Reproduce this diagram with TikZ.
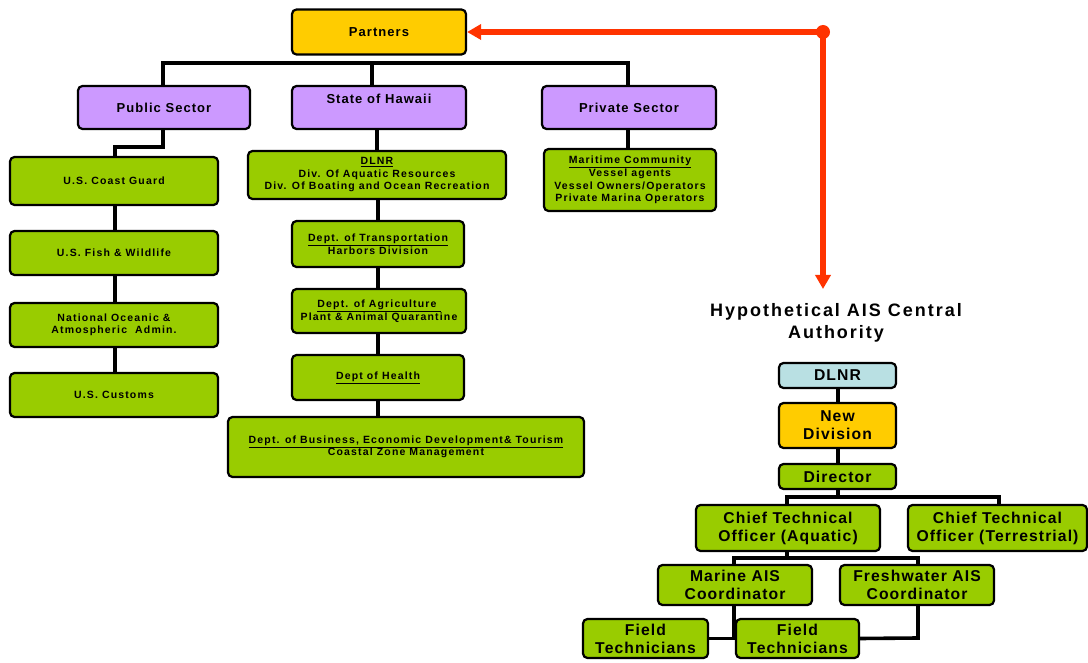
\documentclass[tikz,border=0pt]{standalone}
\usepackage{fontspec}
\setmainfont{Liberation Sans}
\usetikzlibrary{arrows.meta}
\definecolor{boxgreen}{HTML}{99CC00}
\definecolor{boxpurple}{HTML}{CC99FF}
\definecolor{boxyellow}{HTML}{FFCC00}
\definecolor{boxblue}{HTML}{B9E0E3}
\definecolor{redline}{HTML}{FF3300}
\begin{document}
\begin{tikzpicture}[x=1pt,y=-1pt,
  box/.style={draw=black, line width=2.2pt, rounded corners=4.5pt, align=center, inner sep=0pt},
  greenbox/.style={box, fill=boxgreen},
  small/.style={font=\fontsize{10.5}{12.5}\selectfont\bfseries\addfontfeatures{LetterSpace=11}},
  medium/.style={font=\fontsize{13}{15}\selectfont\bfseries\addfontfeatures{LetterSpace=8}},
  big/.style={font=\fontsize{15.7}{18}\selectfont\bfseries\addfontfeatures{LetterSpace=7}},
  titletext/.style={font=\fontsize{18}{22}\selectfont\bfseries\addfontfeatures{LetterSpace=11}, align=center, inner sep=0pt},
  conn/.style={draw=black, line width=3.6pt},
  redconn/.style={draw=redline, line width=5.5pt, -{Triangle[length=14pt,width=15pt]}}]
\useasboundingbox (0,0) rectangle (1088,663);
\fill[white] (0,0) rectangle (1088,663);
% top level
\node[box, medium, fill=boxyellow, minimum width=174pt, minimum height=45pt] (partners) at (379,32) {Partners};
\node[box, medium, fill=boxpurple, minimum width=172pt, minimum height=43pt] (public) at (164,107.5) {Public Sector};
\node[box, medium, fill=boxpurple, minimum width=174pt, minimum height=43pt] (state) at (379,107.5) {\raisebox{4pt}[0pt][0pt]{State of Hawaii}};
\node[box, medium, fill=boxpurple, minimum width=174pt, minimum height=43pt] (private) at (629,107.5) {Private Sector};
% left column
\node[greenbox, small, minimum width=208pt, minimum height=48pt] (uscg) at (114,181) {U.S. Coast Guard};
\node[greenbox, small, minimum width=208pt, minimum height=44pt] (fws) at (114,253) {U.S. Fish \& Wildlife};
\node[greenbox, small, minimum width=208pt, minimum height=44pt] (noaa) at (114,325) {National Oceanic \&\\Atmospheric\ \ Admin.};
\node[greenbox, small, minimum width=208pt, minimum height=44pt] (customs) at (114,395) {U.S. Customs};
% middle column
\node[greenbox, small, minimum width=258pt, minimum height=48pt] (dlnr) at (377,175) {\underline{DLNR}\\Div. Of Aquatic Resources\\Div. Of Boating and Ocean Recreation};
\node[greenbox, small, minimum width=172pt, minimum height=46pt] (dot) at (378,244) {\underline{Dept. of Transportation}\\Harbors Division};
\node[greenbox, small, minimum width=174pt, minimum height=44pt] (doa) at (379,311) {\underline{Dept. of Agriculture\ }\\Plant \& Animal Quarantine};
\node[greenbox, small, minimum width=172pt, minimum height=45pt] (doh) at (378,377.5) {\underline{Dept of Health}};
\node[greenbox, small, minimum width=356pt, minimum height=60pt] (dbedt) at (406,447) {\underline{Dept. of Business, Economic Development\& Tourism}\\Coastal Zone Management};
% private column
\node[greenbox, small, minimum width=172pt, minimum height=62pt, font=\fontsize{10.5}{12.7}\selectfont\bfseries\addfontfeatures{LetterSpace=11}] (maritime) at (630,180) {\underline{Maritime Community}\\Vessel agents\\Vessel Owners/Operators\\Private Marina Operators};
% right side
\node[titletext] (title) at (836,323) {Hypothetical AIS Central\\Authority};
\node[box, big, fill=boxblue, minimum width=117pt, minimum height=25pt] (rdlnr) at (837.5,375.5) {DLNR};
\node[box, big, fill=boxyellow, minimum width=117pt, minimum height=45pt] (newdiv) at (837.5,425.5) {New\\Division};
\node[greenbox, big, minimum width=117pt, minimum height=25pt] (director) at (837.5,476.5) {Director};
\node[greenbox, big, minimum width=184pt, minimum height=46pt] (ctoa) at (788,528) {Chief Technical\\Officer (Aquatic)};
\node[greenbox, big, minimum width=179pt, minimum height=46pt] (ctot) at (997.5,528) {Chief Technical\\Officer (Terrestrial)};
\node[greenbox, big, minimum width=154pt, minimum height=40pt] (marine) at (735,585) {Marine AIS\\Coordinator};
\node[greenbox, big, minimum width=154pt, minimum height=40pt] (fresh) at (917,585) {Freshwater AIS\\Coordinator};
\node[greenbox, big, minimum width=125pt, minimum height=39pt] (ft1) at (645.5,638.5) {Field\\Technicians};
\node[greenbox, big, minimum width=123pt, minimum height=39pt] (ft2) at (797.5,638.5) {Field\\Technicians};
% connectors, top
\coordinate (busL) at (163,63);
\coordinate (busR) at (628,63);
\draw[conn] (public.north -| busL) -- (busL) -- (busR) -- (private.north -| busR);
\draw[conn] (372,63) -- (state.north -| 372,0);
\draw[conn] (public.south -| 163,0) -- (163,147) -- (115,147) -- (uscg.north -| 115,0);
\draw[conn] (uscg.south -| 115,0) -- (fws.north -| 115,0);
\draw[conn] (fws.south -| 115,0) -- (noaa.north -| 115,0);
\draw[conn] (noaa.south -| 115,0) -- (customs.north -| 115,0);
\draw[conn] (state.south -| 377,0) -- (dlnr.north -| 377,0);
\draw[conn] (dlnr.south -| 378,0) -- (dot.north -| 378,0);
\draw[conn] (dot.south -| 378,0) -- (doa.north -| 378,0);
\draw[conn] (doa.south -| 378,0) -- (doh.north -| 378,0);
\draw[conn] (doh.south -| 378,0) -- (dbedt.north -| 378,0);
\draw[conn] (private.south -| 628,0) -- (maritime.north -| 628,0);
% red
\coordinate (corner) at (823,32);
\draw[redconn] (corner) -- (partners.east);
\draw[redconn] (corner) -- (823,289);
\fill[redline] (corner) circle (7pt);
% right tree
\draw[conn] (rdlnr.south -| 838,0) -- (newdiv.north -| 838,0);
\draw[conn] (newdiv.south -| 838,0) -- (director.north -| 838,0);
\draw[conn] (director.south -| 838,0) -- (838,497);
\draw[conn] (ctoa.north -| 787,0) -- (787,497) -- (999,497) -- (ctot.north -| 999,0);
\draw[conn] (ctoa.south -| 787,0) -- (787,558);
\draw[conn] (marine.north -| 734,0) -- (734,558) -- (918,558) -- (fresh.north -| 918,0);
\draw[conn] (marine.south -| 734,0) -- (734,638);
\draw[conn] (ft1.east) -- (ft2.west);
\draw[conn] (fresh.south -| 918,0) -- (918,638) -- (ft2.east);
\end{tikzpicture}
\end{document}
